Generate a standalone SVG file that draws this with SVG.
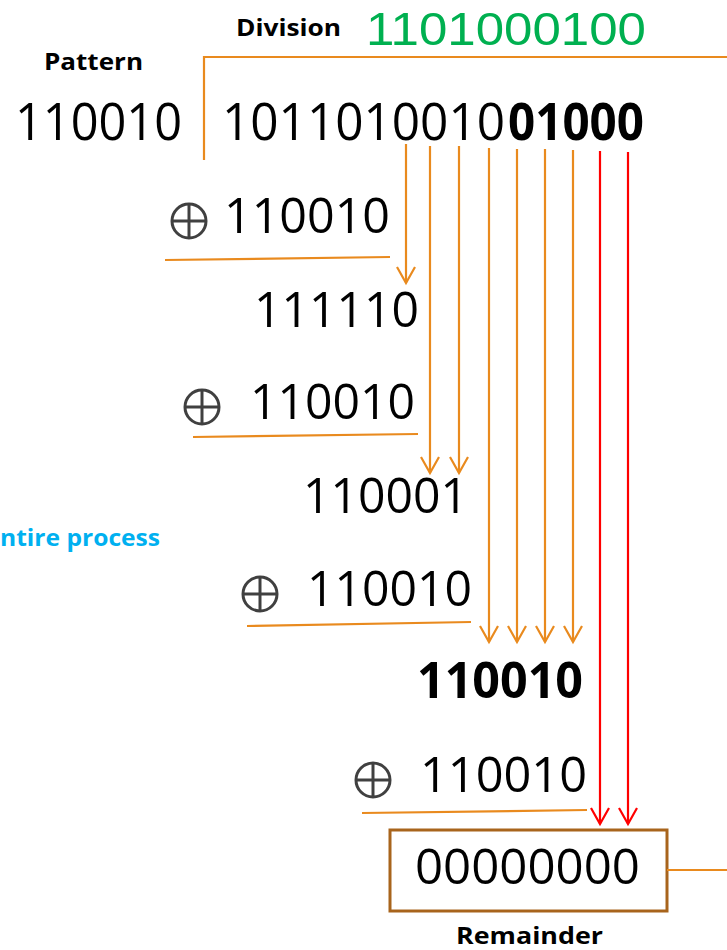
<svg xmlns="http://www.w3.org/2000/svg" width="727" height="950" viewBox="0 0 727 950">
  <style>
    .num { font-family: "Open Sans", "Liberation Sans", sans-serif; font-size: 50px; fill: #000; }
    .bold { font-weight: bold; }
    .lbl { font-family: "Open Sans", "Liberation Sans", sans-serif; font-size: 24px; font-weight: bold; fill: #000; }
    .orange { stroke: #E98A1E; stroke-width: 2.2; fill: none; }
    .red { stroke: #FF0000; stroke-width: 2.2; fill: none; }
    .xor { stroke: #404040; stroke-width: 3; fill: none; }
  </style>
  <defs>
    <marker id="headO" markerUnits="userSpaceOnUse" orient="auto" overflow="visible" markerWidth="20" markerHeight="20" refX="0" refY="0">
      <path d="M-16,-9 L0,0 L-16,9" stroke="#E98A1E" stroke-width="2.2" fill="none"/>
    </marker>
    <marker id="headR" markerUnits="userSpaceOnUse" orient="auto" overflow="visible" markerWidth="20" markerHeight="20" refX="0" refY="0">
      <path d="M-16,-9 L0,0 L-16,9" stroke="#FF0000" stroke-width="2.2" fill="none"/>
    </marker>
    <g id="xorSym">
      <circle cx="0" cy="0" r="17" class="xor"/>
      <line x1="-17" y1="0" x2="17" y2="0" class="xor"/>
      <line x1="0" y1="-17" x2="0" y2="17" class="xor"/>
    </g>
  </defs>

  <!-- header labels -->
  <g id="pattern-label"><text class="lbl" x="44" y="70" textLength="99" lengthAdjust="spacingAndGlyphs">Pattern</text></g>
  <g id="division-label"><text class="lbl" x="236" y="36" textLength="105" lengthAdjust="spacingAndGlyphs">Division</text></g>
  <g id="quotient"><text x="366" y="45" textLength="280" lengthAdjust="spacingAndGlyphs" style="font-family:'Liberation Sans', sans-serif;fill:#00B050;font-size:46px">1101000100</text></g>
  <g id="side-note"><text class="lbl" x="0" y="546" textLength="160" lengthAdjust="spacingAndGlyphs" style="fill:#00B0F0">ntire process</text></g>

  <!-- divisor and dividend -->
  <g id="divisor"><text class="num" x="15" y="140" textLength="167" lengthAdjust="spacingAndGlyphs" style="font-size:52px">110010</text></g>
  <g id="dividend">
    <text class="num" x="222" y="140" textLength="283" lengthAdjust="spacingAndGlyphs" style="font-size:52px">1011010010</text>
    <text class="num bold" x="508" y="140" textLength="136" lengthAdjust="spacingAndGlyphs" style="font-size:52px">01000</text>
  </g>

  <!-- long division steps -->
  <g id="step1">
    <use href="#xorSym" x="189" y="221"/>
    <text class="num" x="224" y="233" textLength="166" lengthAdjust="spacingAndGlyphs">110010</text>
  </g>
  <g id="result1"><text class="num" x="254" y="327" textLength="165" lengthAdjust="spacingAndGlyphs">111110</text></g>
  <g id="step2">
    <use href="#xorSym" x="202" y="407"/>
    <text class="num" x="250" y="419" textLength="165" lengthAdjust="spacingAndGlyphs">110010</text>
  </g>
  <g id="result2"><text class="num" x="303" y="513" textLength="165" lengthAdjust="spacingAndGlyphs">110001</text></g>
  <g id="step3">
    <use href="#xorSym" x="260" y="594"/>
    <text class="num" x="307" y="606" textLength="165" lengthAdjust="spacingAndGlyphs">110010</text>
  </g>
  <g id="result3"><text class="num bold" x="417" y="698" textLength="166" lengthAdjust="spacingAndGlyphs">110010</text></g>
  <g id="step4">
    <use href="#xorSym" x="373" y="780"/>
    <text class="num" x="420" y="792" textLength="167" lengthAdjust="spacingAndGlyphs">110010</text>
  </g>

  <!-- remainder box -->
  <g id="remainder">
    <rect x="390" y="830" width="277" height="81" fill="none" stroke="#A8641C" stroke-width="3"/>
    <text class="num" x="415" y="884" textLength="225" lengthAdjust="spacingAndGlyphs">00000000</text>
    <text class="lbl" x="456" y="944" textLength="147" lengthAdjust="spacingAndGlyphs">Remainder</text>
  </g>

  <!-- connectors -->
  <g id="connectors">
    <path class="orange" d="M204,160 L204,57 L727,57"/>
    <line class="orange" x1="667" y1="870" x2="727" y2="870"/>
    <line class="orange" x1="165" y1="260" x2="390" y2="257"/>
    <line class="orange" x1="193" y1="437" x2="418" y2="434"/>
    <line class="orange" x1="247" y1="626" x2="471" y2="622"/>
    <line class="orange" x1="362" y1="813" x2="587" y2="810"/>

    <line class="orange" x1="406" y1="144" x2="406" y2="283" marker-end="url(#headO)"/>
    <line class="orange" x1="430" y1="146" x2="430" y2="473" marker-end="url(#headO)"/>
    <line class="orange" x1="459" y1="146" x2="459" y2="473" marker-end="url(#headO)"/>
    <line class="orange" x1="489" y1="148" x2="489" y2="642" marker-end="url(#headO)"/>
    <line class="orange" x1="517" y1="149" x2="517" y2="642" marker-end="url(#headO)"/>
    <line class="orange" x1="545" y1="149" x2="545" y2="642" marker-end="url(#headO)"/>
    <line class="orange" x1="573" y1="150" x2="573" y2="642" marker-end="url(#headO)"/>
    <line class="red" x1="600" y1="151" x2="600" y2="824" marker-end="url(#headR)"/>
    <line class="red" x1="628" y1="152" x2="628" y2="824" marker-end="url(#headR)"/>
  </g>
</svg>
